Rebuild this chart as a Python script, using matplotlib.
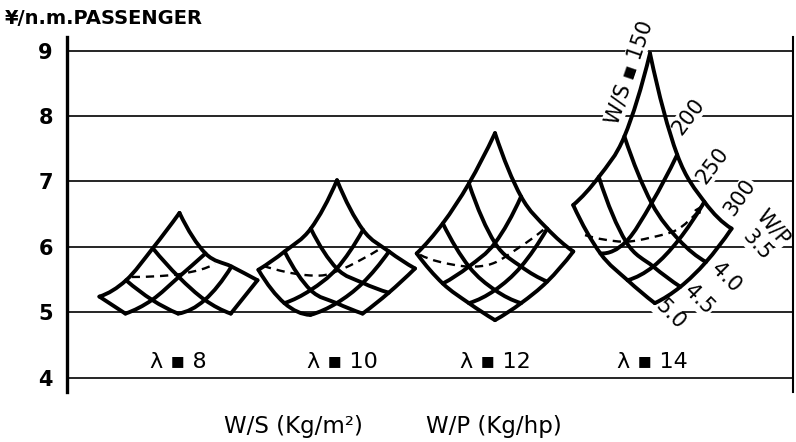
import numpy as np
import matplotlib
matplotlib.use("Agg")
import matplotlib.pyplot as plt
from matplotlib.path import Path
from matplotlib.patches import PathPatch

# ---------------- data ----------------
lambdas = [8, 10, 12, 14]
ws_values = [150, 200, 250, 300]      # W/S  (kg/m^2)
wp_values = [3.5, 4.0, 4.5, 5.0]      # W/P  (kg/hp)
nan = np.nan

# cost (yen / n.m. passenger); rows = W/P 3.5..5.0, columns = W/S 150..300
cost_l8 = [[6.52, 5.90, 5.70, 5.49],
           [5.98, 5.54, 5.19, 4.98],
           [5.49, 5.19, 4.98, nan],
           [5.24, 4.98, nan, nan]]
cost_l10 = [[7.02, 6.26, 5.93, 5.67],
            [6.28, 5.67, 5.45, 5.30],
            [5.93, 5.34, 5.14, 4.98],
            [5.65, 5.14, 4.96, nan]]
cost_l12 = [[7.74, 6.77, 6.28, 5.93],
            [6.97, 6.06, 5.70, 5.47],
            [6.36, 5.70, 5.34, 5.14],
            [5.90, 5.44, 5.14, 4.88]]
cost_l14 = [[8.96, 7.41, 6.69, 6.28],
            [7.69, 6.67, 6.11, 5.77],
            [7.07, 6.08, 5.70, 5.39],
            [6.64, 5.90, 5.49, 5.14]]

# dashed optimum loci: carpet abscissa and cost
opt_x_l8 = [131.7, 155.0, 178.0, 200.0, 215.0]
opt_y_l8 = [5.54, 5.55, 5.58, 5.65, 5.74]
opt_x_l10 = [263.0, 285.0, 305.0, 325.0, 345.0, 363.0, 380.0]
opt_y_l10 = [5.71, 5.62, 5.57, 5.57, 5.68, 5.82, 5.97]
opt_x_l12 = [420.0, 440.0, 468.3, 493.3, 520.0, 536.7, 546.7]
opt_y_l12 = [5.88, 5.77, 5.70, 5.75, 6.00, 6.18, 6.31]
opt_x_l14 = [585.0, 605.0, 626.7, 650.0, 676.7, 696.7, 703.0]
opt_y_l14 = [6.18, 6.11, 6.08, 6.14, 6.26, 6.52, 6.67]

lambda_labels = ["λ ▪ 8", "λ ▪ 10", "λ ▪ 12", "λ ▪ 14"]
yticks = [4, 5, 6, 7, 8, 9]

costs = [cost_l8, cost_l10, cost_l12, cost_l14]
opt_x = [opt_x_l8, opt_x_l10, opt_x_l12, opt_x_l14]
opt_y = [opt_y_l8, opt_y_l10, opt_y_l12, opt_y_l14]

# ---------------- layout (carpet abscissa) ----------------
carpet_origin = [179.5, 337.0, 495.0, 650.0]
step_ws = [26.0, 26.0, 26.1, 27.2]
step_wp = [26.7, 26.2, 26.1, 25.6]
label_x = [178, 342, 495, 652]

W, H = 796, 442
fig = plt.figure(figsize=(W / 100, H / 100), dpi=100)
ax = fig.add_axes([66.7 / W, 1 - 392 / H, (793 - 66.7) / W, (392 - 37) / H])
ax.set_xlim(66.7, 793)
ax.set_ylim(9 - (392 - 50.7) / 65.4, 9 + (50.7 - 37) / 65.4)


def smooth_path(xs, ys):
    p = np.column_stack([xs, ys]).astype(float)
    n = len(p)
    if n == 2:
        return Path(p, [Path.MOVETO, Path.LINETO])
    m = np.zeros_like(p)
    for k in range(1, n - 1):
        m[k] = (p[k + 1] - p[k - 1]) / 2
    m[0] = (-3 * p[0] + 4 * p[1] - p[2]) / 2
    m[-1] = (3 * p[-1] - 4 * p[-2] + p[-3]) / 2
    verts = [p[0]]
    codes = [Path.MOVETO]
    for k in range(n - 1):
        verts += [p[k] + m[k] / 3, p[k + 1] - m[k + 1] / 3, p[k + 1]]
        codes += [Path.CURVE4] * 3
    return Path(verts, codes)


def draw_curve(xs, ys, **kw):
    if len(xs) < 2:
        return
    patch = PathPatch(smooth_path(xs, ys), fill=False, **kw)
    ax.add_patch(patch)


line_kw = dict(edgecolor="black", lw=2.8, capstyle="round", joinstyle="round", zorder=4)

for c, cost in enumerate(costs):
    z = np.array(cost, dtype=float)           # z[j, i]
    ni, nj = len(ws_values), len(wp_values)
    X = np.array([[carpet_origin[c] + step_ws[c] * i - step_wp[c] * j
                   for i in range(ni)] for j in range(nj)])
    # constant W/P lines
    for j in range(nj):
        ok = ~np.isnan(z[j])
        draw_curve(X[j][ok], z[j][ok], **line_kw)
    # constant W/S lines
    for i in range(ni):
        ok = ~np.isnan(z[:, i])
        draw_curve(X[:, i][ok], z[:, i][ok], **line_kw)
    # dashed optimum locus
    draw_curve(opt_x[c], opt_y[c], edgecolor="black", lw=1.7,
               linestyle=(0, (3.5, 2.5)), zorder=3)
    ax.text(label_x[c], 4.24, lambda_labels[c], ha="center", va="center",
            fontsize=16)

# arrow at end of the λ=14 optimum locus
ax.annotate("", xy=(opt_x_l14[-1], opt_y_l14[-1]),
            xytext=(opt_x_l14[-2], opt_y_l14[-2]),
            arrowprops=dict(arrowstyle="-|>", color="black", lw=1.2,
                            mutation_scale=10), zorder=5)

# carpet labels (λ = 14)
lab_kw = dict(ha="center", va="center", fontsize=15, zorder=2,
              bbox=dict(facecolor="white", edgecolor="none", pad=0.5))
ax.text(629, 8.66, "W/S ▪ 150", rotation=71, **lab_kw)
ax.text(689, 8.00, "200", rotation=53, **lab_kw)
ax.text(713, 7.24, "250", rotation=53, **lab_kw)
ax.text(740, 6.76, "300", rotation=55, **lab_kw)
ax.text(773, 6.29, "W/P", rotation=-50, **lab_kw)
ax.text(757, 6.03, "3.5", rotation=-48, **lab_kw)
ax.text(726, 5.54, "4.0", rotation=-45, **lab_kw)
ax.text(699, 5.19, "4.5", rotation=-45, **lab_kw)
ax.text(670, 4.96, "5.0", rotation=-45, **lab_kw)

# axes styling
ax.set_yticks(yticks)
ax.set_yticklabels([str(v) for v in yticks])
ax.set_xticks([])
ax.tick_params(axis="y", length=0, pad=10, labelsize=15)
for lbl in ax.get_yticklabels():
    lbl.set_fontweight("bold")
ax.yaxis.grid(True, color="black", lw=1.2, zorder=0)
ax.set_axisbelow(True)
ax.spines["top"].set_visible(False)
ax.spines["bottom"].set_visible(False)
ax.spines["left"].set_linewidth(2.4)
ax.spines["right"].set_linewidth(1.5)

fig.text(5 / W, 1 - 19 / H, "¥/n.m.PASSENGER", ha="left", va="center",
         fontsize=14, fontweight="bold")
fig.text(224 / W, 1 - 427 / H, "W/S (Kg/m²)", ha="left", va="center", fontsize=16.5)
fig.text(426 / W, 1 - 427 / H, "W/P (Kg/hp)", ha="left", va="center", fontsize=16.5)

fig.savefig("out.png", dpi=100, facecolor="white")
